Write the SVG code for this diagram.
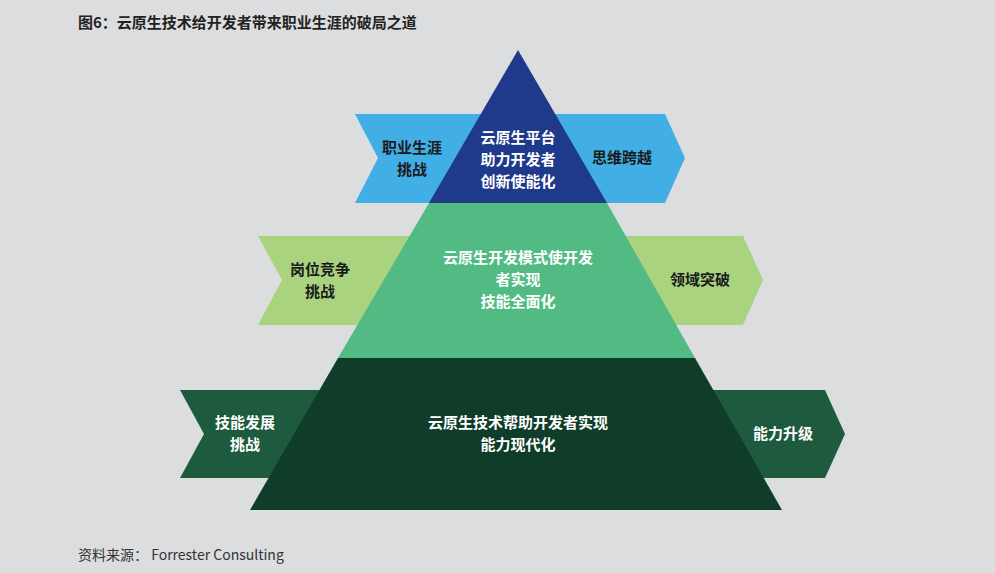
<svg xmlns="http://www.w3.org/2000/svg" width="995" height="573" viewBox="0 0 995 573">
<style>
text{font-family:"Noto Sans CJK SC","Liberation Sans",sans-serif;font-weight:bold;fill:#fff;font-size:15px;text-anchor:middle}
.t{fill:#222;text-anchor:start}
.s{fill:#333;font-weight:normal;text-anchor:start;font-size:14px}
.d{fill:#1a1a1a}
</style>
<rect width="995" height="573" fill="#dcdddf"/>
<text class="t" x="78" y="28">图6：云原生技术给开发者带来职业生涯的破局之道</text>
<g id="bands">
<polygon points="355,114 520,114 520,203 355,203 378,158" fill="#41aee6"/>
<polygon points="510,114 665,114 685,158 665,203 510,203" fill="#41aee6"/>
<polygon points="258,236 520,236 520,325 258,325 282,280" fill="#a9d37f"/>
<polygon points="510,236 743,236 763,280 743,325 510,325" fill="#a9d37f"/>
<polygon points="180,390 520,390 520,478 180,478 204,434" fill="#1e5a3e"/>
<polygon points="510,390 825,390 845,434 825,478 510,478" fill="#1e5a3e"/>
</g>
<g id="pyramid">
<polygon points="518,50 607,203 429,203" fill="#1f3a8a"/>
<polygon points="429,203 607,203 695,358 338,358" fill="#52bb84"/>
<polygon points="338,358 695,358 782,510 250,510" fill="#0f3d29"/>
</g>
<g id="labels">
<text class="d" x="412" y="153">职业生涯</text><text class="d" x="412" y="175">挑战</text>
<text x="518" y="143">云原生平台</text><text x="518" y="165">助力开发者</text><text x="518" y="187">创新使能化</text>
<text class="d" x="622" y="163">思维跨越</text>
<text class="d" x="320" y="275">岗位竞争</text><text class="d" x="320" y="297">挑战</text>
<text x="518" y="263">云原生开发模式使开发</text><text x="518" y="285">者实现</text><text x="518" y="307">技能全面化</text>
<text class="d" x="700" y="285">领域突破</text>
<text x="245" y="428">技能发展</text><text x="245" y="450">挑战</text>
<text x="518" y="428">云原生技术帮助开发者实现</text><text x="518" y="450">能力现代化</text>
<text x="783" y="439">能力升级</text>
</g>
<text class="s" x="78" y="560">资料来源：  Forrester Consulting</text>
</svg>
